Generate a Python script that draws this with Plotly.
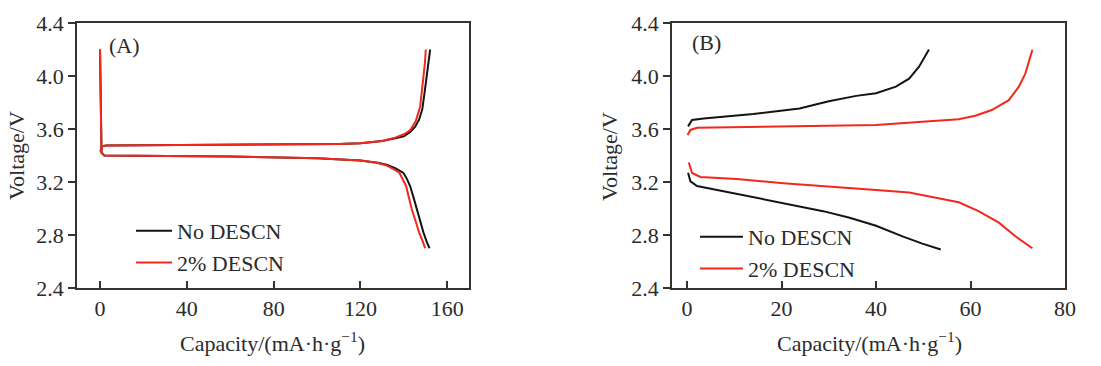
import plotly.graph_objects as go

# ---------------- Panel A data ----------------
a_no_charge_x = [0.2, 1, 3, 40, 80, 110, 120, 130, 136, 140, 143, 145.2, 147, 148.5, 149.5, 150.2, 151.2, 152.1]
a_no_charge_y = [3.43, 3.47, 3.475, 3.478, 3.482, 3.487, 3.493, 3.51, 3.53, 3.545, 3.58, 3.617, 3.67, 3.75, 3.87, 3.97, 4.08, 4.2]
a_no_dis_x = [0, 0.2, 0.4, 0.7, 2, 20, 60, 100, 120, 128, 132, 136, 139.8, 141.5, 142.9, 144.5, 146, 147.5, 149, 150.5, 151.8]
a_no_dis_y = [4.2, 3.8, 3.5, 3.42, 3.40, 3.398, 3.393, 3.38, 3.362, 3.345, 3.33, 3.305, 3.268, 3.22, 3.168, 3.08, 2.99, 2.90, 2.82, 2.75, 2.70]

a_2_charge_x = [0.2, 1, 3, 40, 80, 110, 120, 130, 136, 140, 142.9, 145.5, 147.5, 148.5, 149.2, 149.7, 150.1]
a_2_charge_y = [3.43, 3.47, 3.475, 3.478, 3.482, 3.487, 3.493, 3.51, 3.535, 3.56, 3.59, 3.66, 3.77, 3.9, 4.0, 4.1, 4.2]
a_2_dis_x = [0, 0.2, 0.4, 0.7, 2, 20, 60, 100, 120, 128, 132, 135, 138, 141, 143.7, 145.5, 147, 148.5, 149.8]
a_2_dis_y = [4.2, 3.8, 3.5, 3.42, 3.40, 3.398, 3.393, 3.38, 3.362, 3.343, 3.325, 3.30, 3.268, 3.17, 2.99, 2.90, 2.82, 2.76, 2.70]

# ---------------- Panel B data ----------------
b_no_charge_x = [0.2, 1.05, 3.5, 14, 23.8, 30, 35.8, 40, 44.2, 47, 49.1, 51.2]
b_no_charge_y = [3.62, 3.668, 3.68, 3.713, 3.755, 3.81, 3.85, 3.87, 3.92, 3.98, 4.07, 4.2]
b_no_dis_x = [0.2, 0.7, 2.1, 7.7, 14.7, 21.8, 28.8, 34.4, 40, 45.6, 49.8, 53.7]
b_no_dis_y = [3.27, 3.205, 3.17, 3.13, 3.08, 3.03, 2.98, 2.93, 2.87, 2.79, 2.735, 2.69]

b_2_charge_x = [0.1, 0.7, 2.1, 23.8, 40, 49.8, 57.5, 61, 64.5, 68.1, 70.2, 71.6, 73.1]
b_2_charge_y = [3.555, 3.593, 3.61, 3.623, 3.63, 3.655, 3.673, 3.70, 3.743, 3.818, 3.918, 4.018, 4.198]
b_2_dis_x = [0.35, 1.05, 2.8, 10.5, 20.4, 28.8, 40, 47, 52.6, 57.5, 61.7, 66, 69.5, 73.1]
b_2_dis_y = [3.347, 3.268, 3.238, 3.223, 3.19, 3.17, 3.14, 3.12, 3.08, 3.047, 2.98, 2.893, 2.79, 2.70]

series_names = ["No DESCN", "2% DESCN"]
y_ticks = [2.4, 2.8, 3.2, 3.6, 4.0, 4.4]
a_x_ticks = [0, 40, 80, 120, 160]
b_x_ticks = [0, 20, 40, 60, 80]

BLACK = "#141414"
RED = "#f2281c"
TXT = "#2b2b2b"
FONT = "Times New Roman, Liberation Serif, DejaVu Serif, serif"
FS = 22

fig = go.Figure()

def add(x, y, color, name, xa, ya, leg, show):
    fig.add_trace(go.Scatter(x=x, y=y, mode="lines", line=dict(color=color, width=2),
                             name=name, xaxis=xa, yaxis=ya, legend=leg,
                             showlegend=show, legendgroup=leg + name))

add(a_no_charge_x, a_no_charge_y, BLACK, series_names[0], "x", "y", "legend", True)
add(a_no_dis_x, a_no_dis_y, BLACK, series_names[0], "x", "y", "legend", False)
add(a_2_charge_x, a_2_charge_y, RED, series_names[1], "x", "y", "legend", True)
add(a_2_dis_x, a_2_dis_y, RED, series_names[1], "x", "y", "legend", False)

add(b_no_charge_x, b_no_charge_y, BLACK, series_names[0], "x2", "y2", "legend2", True)
add(b_no_dis_x, b_no_dis_y, BLACK, series_names[0], "x2", "y2", "legend2", False)
add(b_2_charge_x, b_2_charge_y, RED, series_names[1], "x2", "y2", "legend2", True)
add(b_2_dis_x, b_2_dis_y, RED, series_names[1], "x2", "y2", "legend2", False)

# page has an 8px body margin; figure coordinates are page coordinates minus 8
W, H = 1093, 358
ydom = [1 - 280 / H, 1 - 15 / H]

axis_common = dict(showline=True, mirror=True, linecolor="#333333", linewidth=1.5,
                   showgrid=False, zeroline=False, ticklen=7, tickwidth=1.5,
                   automargin=False,
                   tickcolor="#333333", tickfont=dict(family=FONT, size=FS, color=TXT))

def ann(text, x, y, angle=0, xanchor="center"):
    return dict(text=text, x=x / W, y=1 - y / H, xref="paper", yref="paper",
                xanchor=xanchor, yanchor="middle", textangle=angle, showarrow=False,
                font=dict(family=FONT, size=FS, color=TXT))

fig.update_layout(
    width=W, height=H,
    margin=dict(l=0, r=0, t=0, b=0, autoexpand=False),
    paper_bgcolor="white", plot_bgcolor="white",
    font=dict(family=FONT, size=FS, color=TXT),
    xaxis=dict(domain=[69 / W, 461 / W], range=[-10.6, 170], tickvals=a_x_ticks,
               ticks="inside", anchor="y", **axis_common),
    yaxis=dict(domain=ydom, range=[2.4, 4.4], tickvals=y_ticks, tickformat=".1f",
               ticks="outside", anchor="x", **axis_common),
    xaxis2=dict(domain=[664 / W, 1057 / W], range=[-3.2, 80], tickvals=b_x_ticks,
                ticks="inside", anchor="y2", **axis_common),
    yaxis2=dict(domain=ydom, range=[2.4, 4.4], tickvals=y_ticks, tickformat=".1f",
                ticks="outside", anchor="x2", **axis_common),
    legend=dict(x=123 / W, y=1 - 202 / H, xanchor="left", yanchor="top",
                bgcolor="rgba(0,0,0,0)", font=dict(family=FONT, size=FS, color=TXT),
                tracegroupgap=0, itemwidth=36),
    legend2=dict(x=687 / W, y=1 - 208 / H, xanchor="left", yanchor="top",
                 bgcolor="rgba(0,0,0,0)", font=dict(family=FONT, size=FS, color=TXT),
                 tracegroupgap=0, itemwidth=43),
    annotations=[
        ann("(A)", 99, 37, xanchor="left"),
        ann("(B)", 682, 35, xanchor="left"),
        ann("Capacity/(mA·h·g<sup>−1</sup>)", 264, 334),
        ann("Capacity/(mA·h·g<sup>−1</sup>)", 861, 334),
        ann("Voltage/V", 8, 148, angle=-90),
        ann("Voltage/V", 602, 149, angle=-90),
    ],
)

fig.write_html("out.html")
